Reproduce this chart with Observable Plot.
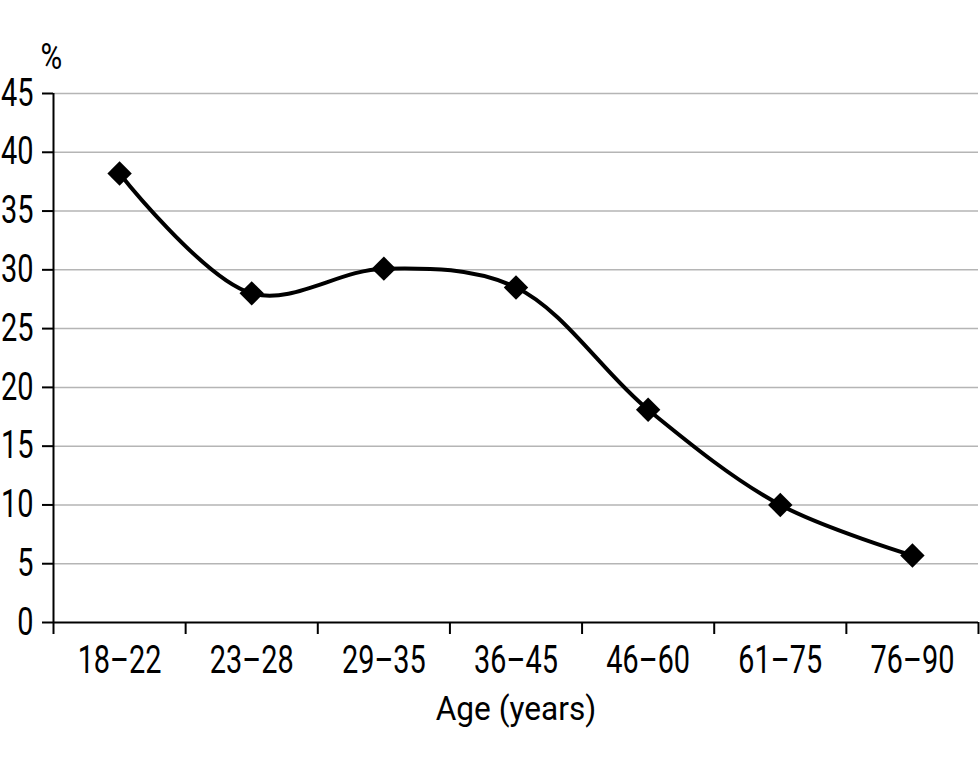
<!DOCTYPE html>
<html><head><meta charset="utf-8">
<script src="https://cdn.jsdelivr.net/npm/d3@7"></script>
<script src="https://cdn.jsdelivr.net/npm/@observablehq/plot@0.6"></script>
<style>body{margin:0;background:#fff}</style>
</head><body><div id="chart"></div>
<script>
const ageGroups = ["18–22", "23–28", "29–35", "36–45", "46–60", "61–75", "76–90"];
const percentValues = [38.2, 28.0, 30.1, 28.5, 18.1, 10.0, 5.7];
const yTicks = [0, 5, 10, 15, 20, 25, 30, 35, 40, 45];
const xAxisLabel = "Age (years)";
const yAxisLabel = "%";

const data = ageGroups.map((age, i) => ({age, pos: i + 0.5, value: percentValues[i]}));
const boundaries = d3.range(ageGroups.length + 1);
const FONT = 'Roboto, "Liberation Sans", sans-serif';

const chart = Plot.plot({
  width: 980, height: 767,
  marginLeft: 53, marginRight: 2, marginTop: 93, marginBottom: 145,
  style: {fontFamily: FONT, fontSize: "38px", background: "white", color: "black"},
  x: {domain: [0, ageGroups.length]},
  y: {domain: [0, 45]},
  marks: [
    Plot.gridY(yTicks.filter(d => d > 0), {stroke: "#b5b5b5", strokeOpacity: 1, strokeWidth: 1.5}),
    Plot.axisY({ticks: yTicks, tickSize: 11, tickPadding: 9, label: null, strokeWidth: 2}),
    Plot.axisX({ticks: boundaries, tickSize: 12, tickFormat: () => "", label: null, strokeWidth: 2}),
    Plot.axisX({ticks: data.map(d => d.pos), tickSize: 0, tickPadding: 24, tickFormat: p => ageGroups[Math.floor(p)], label: null}),
    Plot.ruleX([0], {stroke: "black", strokeWidth: 2}),
    Plot.ruleY([0], {stroke: "black", strokeWidth: 2}),
    Plot.line(data, {x: "pos", y: "value", curve: "catmull-rom", stroke: "black", strokeWidth: 4}),
    Plot.dot(data, {x: "pos", y: "value", symbol: "diamond2", r: 11, fill: "black", stroke: "none"}),
    Plot.text([xAxisLabel], {frameAnchor: "bottom", lineAnchor: "top", dy: 73, fontSize: 34}),
    Plot.text([yAxisLabel], {frameAnchor: "top-left", textAnchor: "start", lineAnchor: "top", dx: -13, dy: -51, fontSize: 37})
  ]
});
document.getElementById("chart").appendChild(chart);

// Condense glyphs to imitate the narrow typeface of the original
chart.querySelectorAll("text").forEach(t => {
  const s = t.textContent;
  if (!s) return;
  const f = s === xAxisLabel ? 0.93 : s === yAxisLabel ? 0.8 : 0.76;
  const len = t.getComputedTextLength();
  if (len > 0) {
    t.setAttribute("textLength", (len * f).toFixed(1));
    t.setAttribute("lengthAdjust", "spacingAndGlyphs");
  }
});
</script>
</body></html>
